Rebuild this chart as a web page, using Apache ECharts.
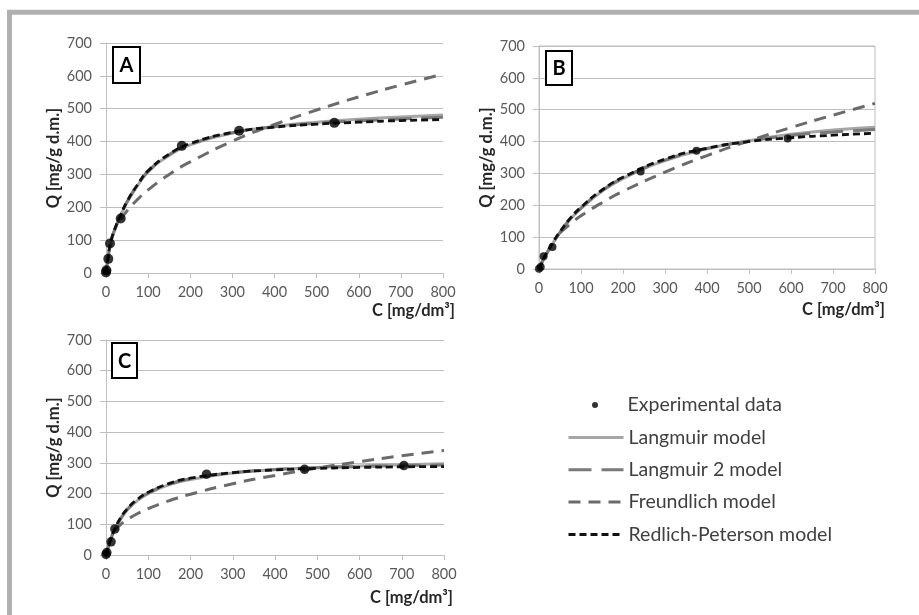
<!DOCTYPE html>
<html>
<head>
<meta charset="utf-8">
<script src="https://cdn.jsdelivr.net/npm/echarts@6/dist/echarts.min.js"></script>
<style>html,body{margin:0;padding:0;background:#fff;}#c{width:919px;height:615px;}</style>
</head>
<body>
<div id="c"></div>
<script>
// ---- data ----
const cModel = [0, 2, 5, 10, 20, 35, 50, 75, 100, 150, 200, 300, 400, 500, 600, 700, 800];

const cA_exp = [0, 1, 5.5, 9.5, 35, 180, 316, 542];
const qA_exp = [2, 8, 43, 90, 166, 387, 433, 457];
const qA_lang  = [0, 20, 45, 85, 128, 175, 215, 266, 308, 358, 390, 426, 446, 459, 468, 475, 481];
const qA_lang2 = [0, 21, 46, 87, 130, 176, 217, 268, 310, 360, 392, 427, 445, 456, 463, 469, 474];
const qA_rp    = [0, 22, 47, 88, 131, 177, 218, 269, 311, 362, 394, 428, 444, 453, 459, 464, 467];
const cA_freu  = [35, 50, 75, 100, 150, 200, 300, 400, 500, 600, 700, 800];
const qA_freu  = [162, 189, 224, 253, 300, 338, 401, 452, 496, 536, 572, 605];

const cB_exp = [0, 4, 11, 32, 242, 375, 592];
const qB_exp = [1, 6, 40, 69, 306, 371, 410];
const qB_lang  = [0, 6, 14, 28, 52, 85, 114, 157, 190, 244, 284, 340, 377, 403, 423, 436, 445];
const qB_lang2 = [0, 6, 15, 29, 53, 86, 115, 158, 191, 246, 286, 342, 378, 401, 419, 430, 438];
const qB_rp    = [0, 6, 15, 30, 55, 88, 117, 160, 194, 248, 288, 345, 379, 400, 412, 420, 426];
const cB_freu  = [50, 75, 100, 150, 200, 300, 400, 500, 600, 700, 800];
const qB_freu  = [114, 142, 167, 208, 244, 304, 356, 402, 444, 483, 520];

const cC_exp = [0, 2, 12, 21, 238, 470, 705];
const qC_exp = [2, 8, 43, 85, 263, 279, 291];
const qC_lang  = [0, 10, 24, 46, 80, 118, 146, 178, 200, 229, 246, 267, 278, 285, 290, 294, 297];
const qC_lang2 = [0, 10, 24, 47, 81, 119, 148, 180, 202, 231, 248, 268, 278, 284, 288, 291, 293];
const qC_rp    = [0, 11, 25, 47, 83, 122, 150, 182, 204, 233, 250, 268, 277, 282, 285, 287, 288];
const cC_freu  = [20, 35, 50, 75, 100, 150, 200, 300, 400, 500, 600, 700, 800];
const qC_freu  = [80, 100, 115, 135, 151, 177, 198, 232, 259, 283, 304, 323, 340];

const xTicks = [0, 100, 200, 300, 400, 500, 600, 700, 800];
const yTicks = [0, 100, 200, 300, 400, 500, 600, 700];
const panelLetters = ['A', 'B', 'C'];
const xAxisName = 'C [mg/dm³]';
const yAxisName = 'Q [mg/g d.m.]';
const names = ['Experimental data', 'Langmuir model', 'Langmuir 2 model', 'Freundlich model', 'Redlich-Peterson model'];

// ---- build ----
const FONT = 'Lato';
const zip = (xs, ys) => xs.map((x, i) => [x, ys[i]]);
const gridCol = '#bfbfbf';
const labCol = '#595959';

const grids = [
  {left: 106, top: 43, width: 337, height: 230},
  {left: 539, top: 46, width: 336, height: 223, show: true, borderColor: gridCol, borderWidth: 1},
  {left: 106, top: 340, width: 338, height: 215}
];

const xAxes = grids.map((g, i) => ({
  type: 'value', gridIndex: i, min: xTicks[0], max: xTicks[xTicks.length - 1], interval: 100,
  axisLine: {show: true, lineStyle: {color: gridCol, width: 1}},
  axisTick: {show: true, length: 5, lineStyle: {color: gridCol}},
  axisLabel: {color: labCol, fontFamily: FONT, fontSize: 14.5, margin: 12},
  splitLine: {show: false}
}));
const yAxes = grids.map((g, i) => ({
  type: 'value', gridIndex: i, min: yTicks[0], max: yTicks[yTicks.length - 1], interval: 100,
  name: yAxisName, nameLocation: 'middle', nameGap: 44,
  nameTextStyle: {color: '#262626', fontFamily: FONT, fontSize: 16.5, fontWeight: 'bold'},
  axisLine: {show: true, lineStyle: {color: gridCol, width: 1}},
  axisTick: {show: true, length: 6, lineStyle: {color: gridCol}},
  axisLabel: {color: labCol, fontFamily: FONT, fontSize: 14.5, margin: 14},
  splitLine: {show: true, lineStyle: {color: gridCol, width: 1}}
}));

const expSizes = [10, 8, 9.5];
const panels = [
  {exp: [cA_exp, qA_exp], lang: qA_lang, lang2: qA_lang2, rp: qA_rp, freu: [cA_freu, qA_freu]},
  {exp: [cB_exp, qB_exp], lang: qB_lang, lang2: qB_lang2, rp: qB_rp, freu: [cB_freu, qB_freu]},
  {exp: [cC_exp, qC_exp], lang: qC_lang, lang2: qC_lang2, rp: qC_rp, freu: [cC_freu, qC_freu]}
];

const lineBase = {type: 'line', symbol: 'none', smooth: 0.5, silent: true, animation: false};
const series = [];
panels.forEach((p, i) => {
  series.push(Object.assign({}, lineBase, {name: names[1], xAxisIndex: i, yAxisIndex: i, z: 2,
    data: zip(cModel, p.lang), lineStyle: {color: '#a6a6a6', width: 3, type: 'solid'}, itemStyle: {color: '#a6a6a6'}}));
  series.push(Object.assign({}, lineBase, {name: names[2], xAxisIndex: i, yAxisIndex: i, z: 3,
    data: zip(cModel, p.lang2), lineStyle: {color: '#7a7a7a', width: 3, type: [23, 10]}, itemStyle: {color: '#7a7a7a'}}));
  series.push(Object.assign({}, lineBase, {name: names[3], xAxisIndex: i, yAxisIndex: i, z: 4,
    data: zip(p.freu[0], p.freu[1]), lineStyle: {color: '#6b6b6b', width: 3, type: [12, 8]}, itemStyle: {color: '#6b6b6b'}}));
  series.push(Object.assign({}, lineBase, {name: names[4], xAxisIndex: i, yAxisIndex: i, z: 5,
    data: zip(cModel, p.rp), lineStyle: {color: '#111111', width: 2.8, type: [7, 4]}, itemStyle: {color: '#111111'}}));
  series.push({type: 'scatter', name: names[0], xAxisIndex: i, yAxisIndex: i, z: 6, animation: false,
    symbol: 'circle', symbolSize: expSizes[i], data: zip(p.exp[0], p.exp[1]), itemStyle: {color: '#000'}});
});

const boxes = [
  {x: 113, y: 47, w: 27, h: 36},
  {x: 546, y: 51, w: 26, h: 34},
  {x: 112, y: 343, w: 25, h: 35}
];
const graphic = [
  {type: 'rect', shape: {x: 9.5, y: 12.3, width: 1200, height: 1200}, style: {fill: 'none', stroke: '#b0b0b0', lineWidth: 5}, silent: true}
];
boxes.forEach((b, i) => {
  graphic.push({type: 'rect', shape: {x: b.x, y: b.y, width: b.w, height: b.h}, style: {fill: '#fff', stroke: '#000', lineWidth: 2}, z: 100});
  graphic.push({type: 'text', x: b.x + b.w / 2, y: b.y + b.h / 2 + 1, z: 101,
    style: {text: panelLetters[i], fill: '#000', font: 'bold 20px ' + FONT, textAlign: 'center', textVerticalAlign: 'middle'}});
});
const xNamePos = [[455, 311], [885, 310], [453, 598]];
xNamePos.forEach(p => {
  graphic.push({type: 'text', x: p[0], y: p[1], z: 50,
    style: {text: xAxisName, fill: '#262626', font: 'bold 16.5px ' + FONT, textAlign: 'right', textVerticalAlign: 'middle'}});
});

const legendText = {color: '#404040', fontFamily: FONT, fontSize: 19.5, lineHeight: 20};
const option = {
  backgroundColor: '#fff',
  animation: false,
  grid: grids,
  xAxis: xAxes,
  yAxis: yAxes,
  legend: [
    {data: [{name: names[0], icon: 'circle'}], orient: 'vertical', left: 592, top: 395, padding: 0,
     itemWidth: 55, itemHeight: 6, textStyle: legendText, selectedMode: false},
    {data: names.slice(1), orient: 'vertical', left: 567, top: 427.5, padding: 0,
     itemWidth: 55, itemHeight: 14, itemGap: 12.3, textStyle: legendText, selectedMode: false,
     itemStyle: {opacity: 0}, lineStyle: {width: 3}}
  ],
  graphic: graphic,
  series: series
};
const chart = echarts.init(document.getElementById('c'), null, {renderer: 'canvas'});
chart.setOption(option);
</script>
</body>
</html>
